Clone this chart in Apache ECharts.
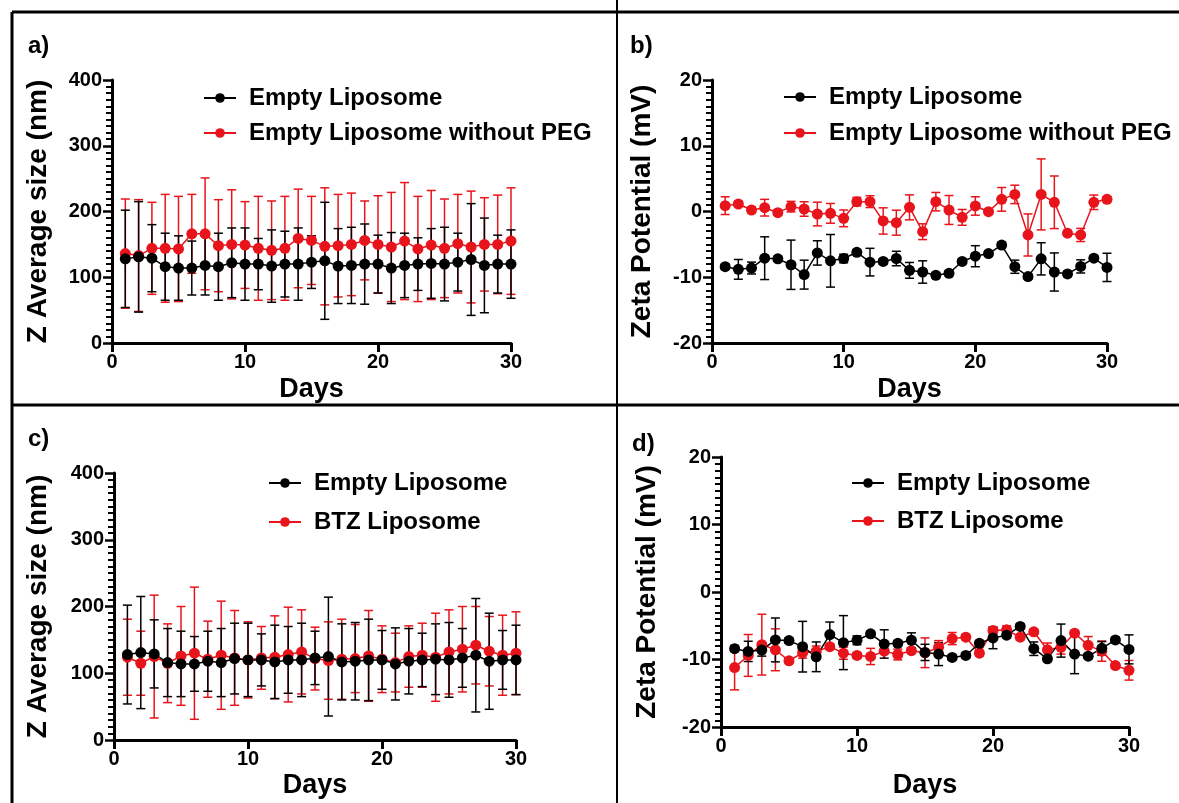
<!DOCTYPE html>
<html>
<head>
<meta charset="utf-8">
<title>Liposome stability</title>
<script src="https://cdn.jsdelivr.net/npm/echarts@6/dist/echarts.min.js"></script>
<style>
html, body { margin: 0; padding: 0; background: #fff; }
#chart { width: 1179px; height: 803px; }
</style>
</head>
<body>
<div id="chart"></div>
<script>
// days of measurement
const days = [1, 2, 3, 4, 5, 6, 7, 8, 9, 10, 11, 12, 13, 14, 15, 16, 17, 18, 19, 20, 21, 22, 23, 24, 25, 26, 27, 28, 29, 30];

// Z average size (nm), mean and SD
const emptySize = [128, 131, 129, 116, 114, 114, 118, 116, 122, 120, 120, 117, 120, 120, 123, 125, 117, 118, 120, 120, 114, 118, 120, 121, 120, 123, 127, 118, 120, 120];
const emptySizeSd = [74, 84, 51, 51, 49, 41, 45, 51, 53, 55, 39, 55, 50, 55, 40, 89, 57, 58, 61, 44, 54, 49, 40, 53, 56, 44, 85, 72, 44, 52];
const noPegSize = [136, 133, 144, 144, 143, 166, 166, 148, 150, 149, 144, 141, 144, 159, 156, 147, 148, 150, 156, 150, 146, 155, 143, 149, 144, 151, 146, 150, 150, 155];
const noPegSizeSd = [83, 85, 70, 82, 80, 60, 85, 70, 83, 66, 79, 75, 79, 75, 67, 89, 78, 78, 60, 74, 83, 89, 80, 83, 75, 75, 85, 71, 75, 81];
const btzSize = [124, 115, 125, 115, 126, 130, 121, 127, 123, 120, 123, 124, 128, 132, 122, 119, 121, 122, 126, 121, 116, 125, 127, 124, 132, 136, 142, 133, 127, 130];
const btzSizeSd = [57, 48, 92, 59, 74, 99, 57, 81, 71, 57, 47, 62, 71, 63, 47, 58, 60, 51, 68, 50, 44, 46, 48, 66, 63, 64, 58, 52, 60, 62];

// zeta potential (mV), mean and SD
const emptyZeta = [-8.4, -8.8, -8.6, -7.1, -7.2, -8.1, -9.6, -6.3, -7.5, -7.15, -6.2, -7.7, -7.6, -7.15, -8.95, -9.2, -9.7, -9.4, -7.6, -6.8, -6.4, -5.1, -8.4, -9.9, -7.2, -9.2, -9.5, -8.35, -7.1, -8.5];
const emptyZetaSd = [0.4, 1.5, 0.9, 3.25, 0.4, 3.75, 2.2, 1.85, 4.0, 0.65, 0.4, 2.1, 0.4, 1.1, 1.2, 1.7, 0.4, 0.4, 0.4, 1.6, 0.4, 0.4, 1.0, 0.4, 2.45, 2.9, 0.4, 1.0, 0.4, 2.15];
const noPegZeta = [0.89, 1.14, 0.23, 0.58, -0.18, 0.74, 0.38, -0.38, -0.28, -1.04, 1.5, 1.5, -1.44, -1.7, 0.63, -3.07, 1.5, 0.23, -0.89, 0.84, -0.03, 1.85, 2.6, -3.57, 2.6, 1.4, -3.3, -3.57, 1.4, 1.85];
const noPegZetaSd = [1.35, 0.4, 0.4, 1.27, 0.4, 0.8, 1.1, 1.8, 1.5, 1.27, 0.65, 0.9, 2.0, 1.9, 1.9, 1.2, 1.4, 2.2, 1.2, 1.4, 0.4, 1.8, 1.4, 3.2, 5.4, 4.0, 0.4, 1.0, 1.1, 0.4];
const btzZeta = [-11.2, -9.4, -7.8, -8.56, -10.2, -9.0, -8.8, -8.1, -9.06, -9.4, -9.55, -8.76, -9.26, -8.7, -9.0, -8.2, -6.9, -6.7, -9.06, -5.7, -5.6, -6.7, -5.9, -8.56, -8.2, -6.1, -7.9, -8.76, -10.9, -11.6];
const btzZetaSd = [3.3, 3.1, 4.5, 3.1, 0.4, 0.8, 0.8, 0.4, 0.9, 0.4, 1.2, 0.4, 0.8, 0.4, 2.2, 1.0, 0.9, 0.4, 0.4, 0.5, 0.6, 0.4, 0.4, 1.0, 1.0, 0.4, 1.3, 1.5, 0.4, 1.45];

const FONT = '"Liberation Sans", Arial, sans-serif';
const RED = '#e8141b';
const BLACK = '#000';

// error bars drawn as custom series
function errorSeries(name, idx, mean, sd, color) {
    return {
        name: name,
        type: 'custom',
        xAxisIndex: idx,
        yAxisIndex: idx,
        silent: true,
        data: days.map((d, i) => [d, mean[i], sd[i]]),
        encode: { x: 0, y: 1 },
        renderItem: function (params, api) {
            const x = api.value(0), m = api.value(1), s = api.value(2);
            const top = api.coord([x, m + s]);
            const bot = api.coord([x, m - s]);
            const w = 4.5;
            const style = { stroke: color, lineWidth: 1.5 };
            return {
                type: 'group',
                children: [
                    { type: 'line', shape: { x1: top[0], y1: top[1], x2: bot[0], y2: bot[1] }, style: style },
                    { type: 'line', shape: { x1: top[0] - w, y1: top[1], x2: top[0] + w, y2: top[1] }, style: style },
                    { type: 'line', shape: { x1: bot[0] - w, y1: bot[1], x2: bot[0] + w, y2: bot[1] }, style: style }
                ]
            };
        }
    };
}

function lineSeries(name, idx, mean, color) {
    return {
        name: name,
        type: 'line',
        xAxisIndex: idx,
        yAxisIndex: idx,
        data: days.map((d, i) => [d, mean[i]]),
        symbol: 'circle',
        symbolSize: 11,
        itemStyle: { color: color },
        lineStyle: { color: color, width: 1.5 }
    };
}

function xAxis(idx, nameGap) {
    return {
        type: 'value',
        gridIndex: idx,
        min: 0,
        max: 30,
        interval: 10,
        name: 'Days',
        nameLocation: 'middle',
        nameGap: nameGap,
        nameTextStyle: { fontFamily: FONT, fontWeight: 'bold', fontSize: 27, color: '#000' },
        axisLine: { onZero: false, lineStyle: { color: '#000', width: 3 } },
        axisTick: { length: 9, lineStyle: { color: '#000', width: 3 } },
        axisLabel: { margin: 9, fontFamily: FONT, fontWeight: 'bold', fontSize: 20, color: '#000' },
        splitLine: { show: false }
    };
}

function yAxis(idx, name, min, max, interval, nameGap) {
    return {
        type: 'value',
        gridIndex: idx,
        min: min,
        max: max,
        interval: interval,
        name: name,
        nameLocation: 'middle',
        nameGap: nameGap,
        nameTextStyle: { fontFamily: FONT, fontWeight: 'bold', fontSize: 28, color: '#000' },
        axisLine: { onZero: false, lineStyle: { color: '#000', width: 3 } },
        axisTick: { length: 9, lineStyle: { color: '#000', width: 2.5 } },
        minorTick: { show: true, splitNumber: 10, length: 6, lineStyle: { color: '#000', width: 2 } },
        axisLabel: { margin: 10, fontFamily: FONT, fontWeight: 'bold', fontSize: 20, color: '#000' },
        splitLine: { show: false }
    };
}

function legend(names, left, top, gap) {
    return {
        data: names,
        orient: 'vertical',
        left: left,
        top: top,
        padding: 0,
        itemGap: gap,
        itemWidth: 32,
        itemHeight: 12,
        selectedMode: false,
        textStyle: { fontFamily: FONT, fontWeight: 'bold', fontSize: 24, color: '#000', padding: [0, 0, 0, 8] }
    };
}

function panelLabel(text, x, y) {
    return {
        type: 'text',
        left: x,
        top: y,
        style: { text: text, fontFamily: FONT, fontWeight: 'bold', fontSize: 24, fill: '#000' }
    };
}

function border(x1, y1, x2, y2, w) {
    return { type: 'line', shape: { x1: x1, y1: y1, x2: x2, y2: y2 }, style: { stroke: '#000', lineWidth: w } };
}

const chart = echarts.init(document.getElementById('chart'));

const option = {
    backgroundColor: '#fff',
    animation: false,
    grid: [
        { left: 112, top: 80, width: 399, height: 263 },
        { left: 712, top: 80, width: 395, height: 263 },
        { left: 114, top: 473, width: 402, height: 267 },
        { left: 721, top: 457, width: 408, height: 270 }
    ],
    xAxis: [xAxis(0, 33), xAxis(1, 33), xAxis(2, 32), xAxis(3, 45)],
    yAxis: [
        yAxis(0, 'Z Average size (nm)', 0, 400, 100, 60),
        yAxis(1, 'Zeta Potential (mV)', -20, 20, 10, 56),
        yAxis(2, 'Z Average size (nm)', 0, 400, 100, 62),
        yAxis(3, 'Zeta Potential (mV)', -20, 20, 10, 60)
    ],
    legend: [
        legend(['Empty Liposome', 'Empty Liposome without PEG'], 203, 86, 11),
        legend(['Empty Liposome', 'Empty Liposome without PEG'], 783, 85, 12),
        legend(['Empty Liposome', 'BTZ Liposome'], 268, 471, 15),
        legend(['Empty Liposome', 'BTZ Liposome'], 851, 471, 14)
    ],
    series: [
        // a) size, with / without PEG
        errorSeries('noPegSize SD', 0, noPegSize, noPegSizeSd, RED),
        lineSeries('Empty Liposome without PEG', 0, noPegSize, RED),
        errorSeries('emptySize SD a', 0, emptySize, emptySizeSd, BLACK),
        lineSeries('Empty Liposome', 0, emptySize, BLACK),
        // b) zeta, with / without PEG
        errorSeries('noPegZeta SD', 1, noPegZeta, noPegZetaSd, RED),
        lineSeries('Empty Liposome without PEG', 1, noPegZeta, RED),
        errorSeries('emptyZeta SD b', 1, emptyZeta, emptyZetaSd, BLACK),
        lineSeries('Empty Liposome', 1, emptyZeta, BLACK),
        // c) size, empty vs BTZ
        errorSeries('btzSize SD', 2, btzSize, btzSizeSd, RED),
        lineSeries('BTZ Liposome', 2, btzSize, RED),
        errorSeries('emptySize SD c', 2, emptySize, emptySizeSd, BLACK),
        lineSeries('Empty Liposome', 2, emptySize, BLACK),
        // d) zeta, empty vs BTZ
        errorSeries('btzZeta SD', 3, btzZeta, btzZetaSd, RED),
        lineSeries('BTZ Liposome', 3, btzZeta, RED),
        errorSeries('emptyZeta SD d', 3, emptyZeta, emptyZetaSd, BLACK),
        lineSeries('Empty Liposome', 3, emptyZeta, BLACK)
    ],
    graphic: [
        border(12, 12, 1179, 12, 3),
        border(12, 12, 12, 803, 3),
        border(12, 405, 1179, 405, 3),
        border(617, 0, 617, 803, 2),
        panelLabel('a)', 28, 34),
        panelLabel('b)', 630, 34),
        panelLabel('c)', 28, 427),
        panelLabel('d)', 632, 432)
    ]
};

chart.setOption(option);
window.addEventListener('resize', function () {
    chart.resize();
});
</script>
</body>
</html>
